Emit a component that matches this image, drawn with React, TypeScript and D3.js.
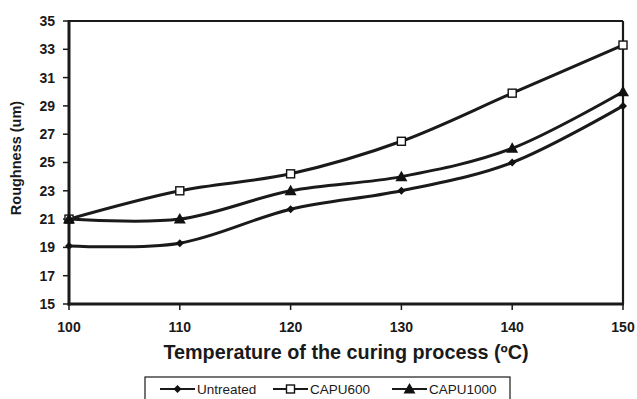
import React from "react";
import * as d3 from "d3";

const temps = [100, 110, 120, 130, 140, 150];
const untreated = [19.1, 19.3, 21.7, 23.0, 25.0, 29.0];
const capu600 = [21.0, 23.0, 24.2, 26.5, 29.9, 33.3];
const capu1000 = [21.0, 21.0, 23.0, 24.0, 26.0, 30.0];
const yTicks = [15, 17, 19, 21, 23, 25, 27, 29, 31, 33, 35];
const seriesNames = ["Untreated", "CAPU600", "CAPU1000"];

const W = 637, H = 399;
const L = 69, R = 623, T = 21, B = 304;
const font = "'Liberation Sans', Arial, sans-serif";

function Marker({ kind, x, y }: { kind: string; x: number; y: number }) {
  if (kind === "diamond") {
    const s = 4;
    return <path d={`M${x},${y - s}L${x + s},${y}L${x},${y + s}L${x - s},${y}Z`} fill="#111" />;
  }
  if (kind === "square") {
    return <rect x={x - 4} y={y - 4} width={8} height={8} fill="#fff" stroke="#111" strokeWidth={1.4} />;
  }
  const s = 6;
  return <path d={`M${x},${y - s}L${x + s},${y + s * 0.75}L${x - s},${y + s * 0.75}Z`} fill="#111" />;
}

export default function App() {
  const x = d3.scaleLinear().domain([100, 150]).range([L, R]);
  const y = d3.scaleLinear().domain([15, 35]).range([B, T]);
  const line = d3
    .line<number>()
    .x((_, i) => x(temps[i]))
    .y((d) => y(d))
    .curve(d3.curveCatmullRom.alpha(0));
  const data = [untreated, capu600, capu1000];
  const kinds = ["diamond", "square", "triangle"];
  const legendX = [160, 273, 392];

  return (
    <svg width={W} height={H} style={{ position: "absolute", left: 0, top: 0, background: "#fff" }}>
      <rect x={0} y={0} width={W} height={H} fill="#fff" />
      <line x1={L} y1={T} x2={R} y2={T} stroke="#1a1a1a" strokeWidth={2.2} />
      <line x1={R} y1={T} x2={R} y2={B} stroke="#1a1a1a" strokeWidth={2.2} />
      <line x1={L} y1={T - 1} x2={L} y2={B + 1.5} stroke="#1a1a1a" strokeWidth={3} />
      <line x1={L - 1.5} y1={B} x2={R + 1} y2={B} stroke="#1a1a1a" strokeWidth={3} />
      {yTicks.map((t) => (
        <g key={t}>
          <line x1={L - 6} x2={L} y1={y(t)} y2={y(t)} stroke="#1a1a1a" strokeWidth={1.5} />
          <text x={55} y={y(t)} dy="0.35em" textAnchor="end" fontFamily={font} fontWeight="bold" fontSize={14} fill="#1a1a1a">
            {t}
          </text>
        </g>
      ))}
      {temps.map((t) => (
        <g key={t}>
          <line x1={x(t)} x2={x(t)} y1={B} y2={B + 6} stroke="#1a1a1a" strokeWidth={1.5} />
          <text x={x(t)} y={327} dy="0.35em" textAnchor="middle" fontFamily={font} fontWeight="bold" fontSize={14} fill="#1a1a1a">
            {t}
          </text>
        </g>
      ))}
      <text x={346} y={352} dy="0.35em" textAnchor="middle" fontFamily={font} fontWeight="bold" fontSize={19.8} fill="#1a1a1a">
        Temperature of the curing process (ºC)
      </text>
      <text transform={`translate(16,158) rotate(-90)`} dy="0.35em" textAnchor="middle" fontFamily={font} fontWeight="bold" fontSize={14.5} fill="#1a1a1a">
        Roughness (um)
      </text>
      {data.map((d, si) => (
        <g key={si}>
          <path d={line(d) || ""} fill="none" stroke="#1a1a1a" strokeWidth={3} />
          {d.map((v, i) => (
            <Marker key={i} kind={kinds[si]} x={x(temps[i])} y={y(v)} />
          ))}
        </g>
      ))}
      <rect x={145} y={377} width={365} height={30} fill="#fff" stroke="#1a1a1a" strokeWidth={1.2} />
      {seriesNames.map((n, i) => (
        <g key={n}>
          <line x1={legendX[i]} x2={legendX[i] + 35} y1={389} y2={389} stroke="#1a1a1a" strokeWidth={2} />
          <Marker kind={kinds[i]} x={legendX[i] + 17.5} y={389} />
          <text x={legendX[i] + 37} y={389} dy="0.35em" fontFamily={font} fontSize={13.5} fill="#1a1a1a">
            {n}
          </text>
        </g>
      ))}
    </svg>
  );
}
